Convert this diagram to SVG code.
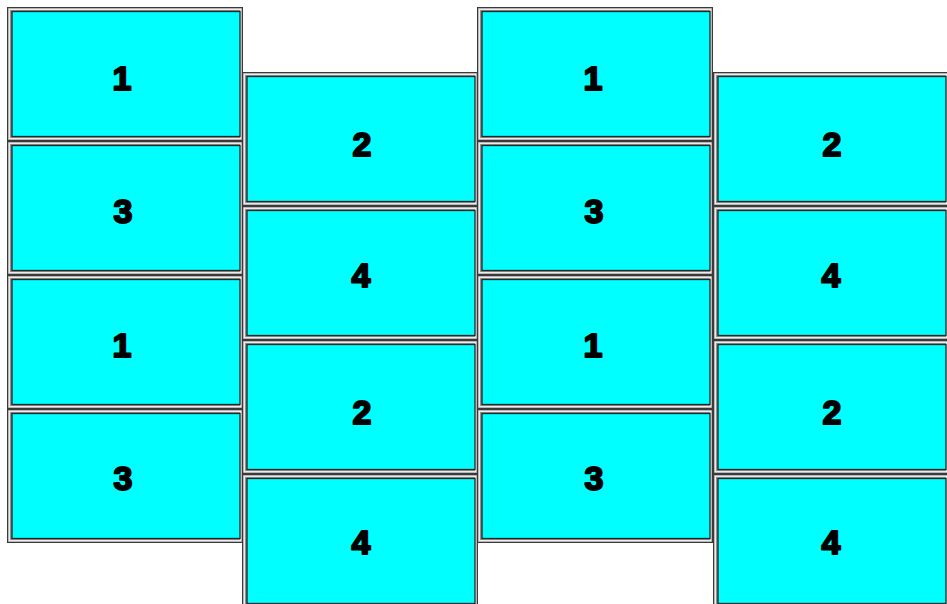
<svg xmlns="http://www.w3.org/2000/svg" xmlns:xlink="http://www.w3.org/1999/xlink" width="947" height="604" viewBox="0 0 947 604">
<style>
.lbl{font-family:"Liberation Sans",Arial,sans-serif;font-weight:bold;font-size:34px;fill:#000;stroke:#000;stroke-width:2;stroke-linejoin:round;text-anchor:middle}
</style>
<defs>
<g id="mon">
<rect x="0.5" y="0.5" width="235" height="133" fill="#8c8c8c" stroke="#3a3a3a"/>
<rect x="2.3" y="2.3" width="231.4" height="129.4" fill="none" stroke="#ececec" stroke-width="1.5"/>
<rect x="5" y="4.5" width="228" height="125" fill="#00ffff" stroke="#262626" stroke-width="1.3"/>
</g>
</defs>
<rect width="947" height="604" fill="#fff"/>
<g id="c1r1"><use xlink:href="#mon" x="7" y="7"/><text class="lbl" x="122" y="90">1</text></g>
<g id="c1r2"><use xlink:href="#mon" x="7" y="141"/><text class="lbl" x="123" y="223">3</text></g>
<g id="c1r3"><use xlink:href="#mon" x="7" y="275"/><text class="lbl" x="122" y="357">1</text></g>
<g id="c1r4"><use xlink:href="#mon" x="7" y="409"/><text class="lbl" x="123" y="490">3</text></g>
<g id="c2r1"><use xlink:href="#mon" x="242" y="72"/><text class="lbl" x="362" y="156">2</text></g>
<g id="c2r2"><use xlink:href="#mon" x="242" y="206"/><text class="lbl" x="361" y="287">4</text></g>
<g id="c2r3"><use xlink:href="#mon" x="242" y="340"/><text class="lbl" x="362" y="424">2</text></g>
<g id="c2r4"><use xlink:href="#mon" x="242" y="474"/><text class="lbl" x="361" y="554">4</text></g>
<g id="c3r1"><use xlink:href="#mon" x="477" y="7"/><text class="lbl" x="593" y="90">1</text></g>
<g id="c3r2"><use xlink:href="#mon" x="477" y="141"/><text class="lbl" x="594" y="223">3</text></g>
<g id="c3r3"><use xlink:href="#mon" x="477" y="275"/><text class="lbl" x="593" y="357">1</text></g>
<g id="c3r4"><use xlink:href="#mon" x="477" y="409"/><text class="lbl" x="594" y="490">3</text></g>
<g id="c4r1"><use xlink:href="#mon" x="713" y="72"/><text class="lbl" x="832" y="156">2</text></g>
<g id="c4r2"><use xlink:href="#mon" x="713" y="206"/><text class="lbl" x="831" y="287">4</text></g>
<g id="c4r3"><use xlink:href="#mon" x="713" y="340"/><text class="lbl" x="832" y="424">2</text></g>
<g id="c4r4"><use xlink:href="#mon" x="713" y="474"/><text class="lbl" x="831" y="554">4</text></g>
<g id="connectors"></g>
</svg>
